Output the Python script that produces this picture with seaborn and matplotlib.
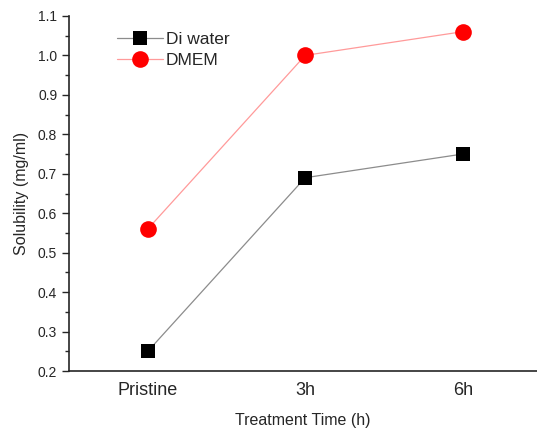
import pandas as pd
import numpy as np
import matplotlib.pyplot as plt
import seaborn as sns
from matplotlib.lines import Line2D
from matplotlib.ticker import MultipleLocator

times = ['Pristine', '3h', '6h']
di_water = [0.25, 0.69, 0.75]
dmem = [0.56, 1.00, 1.06]

sns.set_style('ticks')
plt.rcParams['font.family'] = ['Liberation Sans', 'DejaVu Sans']

_df = pd.DataFrame({
    'Treatment Time (h)': times * 2,
    'Solubility (mg/ml)': di_water + dmem,
    'series': ['Di water'] * 3 + ['DMEM'] * 3,
})

fig = plt.figure(figsize=(5.37, 4.30), dpi=100)
ax = fig.add_axes([0.1285, 0.137, 0.871, 0.826])

line_cols = {'Di water': '#8c8c8c', 'DMEM': '#ff9a9a'}
mark_cols = {'Di water': 'black', 'DMEM': 'red'}
marks = {'Di water': 's', 'DMEM': 'o'}
msize = {'Di water': 10, 'DMEM': 12}

sns.lineplot(data=_df, x='Treatment Time (h)', y='Solubility (mg/ml)', hue='series',
             palette=line_cols, linewidth=0.9, sort=False, legend=False, ax=ax)
for name in ['Di water', 'DMEM']:
    sub = _df[_df['series'] == name]
    ax.plot(sub['Treatment Time (h)'], sub['Solubility (mg/ml)'], linestyle='none',
            marker=marks[name], markersize=msize[name], color=mark_cols[name],
            markeredgewidth=0, zorder=3)

ax.set_xlim(-0.5, 2.47)
ax.set_ylim(0.2, 1.1)
ax.yaxis.set_major_locator(MultipleLocator(0.1))
ax.yaxis.set_minor_locator(MultipleLocator(0.05))
ax.tick_params(axis='y', which='major', length=5, width=1, labelsize=10, direction='out')
ax.tick_params(axis='y', which='minor', length=3, width=1, direction='out')
ax.tick_params(axis='x', length=0, labelsize=13, pad=8)
ax.set_xlabel('Treatment Time (h)', fontsize=11.5, labelpad=10)
ax.set_ylabel('Solubility (mg/ml)', fontsize=11.5, labelpad=6)
for s in ['top', 'right']:
    ax.spines[s].set_visible(False)
for s in ['left', 'bottom']:
    ax.spines[s].set_linewidth(1.2)

handles = [Line2D([], [], color=line_cols[n], linewidth=0.9, marker=marks[n],
                  markersize=msize[n], markerfacecolor=mark_cols[n],
                  markeredgewidth=0) for n in ['Di water', 'DMEM']]
ax.legend(handles, ['Di water', 'DMEM'], loc='upper left', bbox_to_anchor=(0.07, 1.0),
          frameon=False, fontsize=12.5, handlelength=2.6, handletextpad=0.2,
          labelspacing=0.35)

fig.savefig('out.png', dpi=100)
